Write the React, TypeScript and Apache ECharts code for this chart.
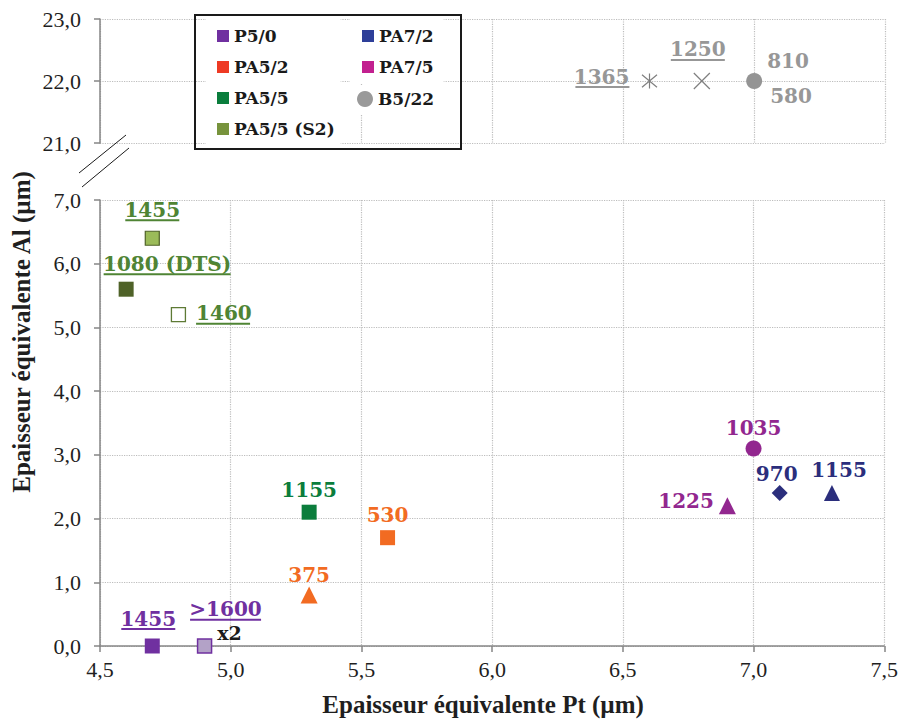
import React, { useEffect, useRef } from 'react';
import * as echarts from 'echarts';

// ---------- data ----------
const xMin = 4.5;
const xMax = 7.5;
const xStep = 0.5;
const yTopMin = 21;
const yTopMax = 23;
const yBotMin = 0;
const yBotMax = 7;

const seriesNames = ['P5/0', 'PA5/2', 'PA5/5', 'PA5/5 (S2)', 'PA7/2', 'PA7/5', 'B5/22'];

const p50X = [4.7, 4.9];
const p50Y = [0.0, 0.0];
const p50Labels = ['1455', '>1600'];

const pa52X = [5.6, 5.3];
const pa52Y = [1.7, 0.8];
const pa52Labels = ['530', '375'];

const pa55X = [5.3];
const pa55Y = [2.1];
const pa55Labels = ['1155'];

const s2X = [4.7, 4.6, 4.8];
const s2Y = [6.4, 5.6, 5.2];
const s2Labels = ['1455', '1080 (DTS)', '1460'];

const pa72X = [7.1, 7.3];
const pa72Y = [2.4, 2.4];
const pa72Labels = ['970', '1155'];

const pa75X = [7.0, 6.9];
const pa75Y = [3.1, 2.2];
const pa75Labels = ['1035', '1225'];

const b522X = [7.0, 6.8, 6.6];
const b522Y = [22.0, 22.0, 22.0];
const b522Labels = ['810', '1250', '1365'];
const b522LabelsLow = ['580', '', ''];

const p50Note = 'x2';

// ---------- styles ----------
const LABEL_FONT = '"DejaVu Serif", serif';
const AXIS_FONT = '"Liberation Serif", "Times New Roman", serif';
const LABEL_SIZE = 20;
const GRID_COLOR = '#BDBDBD';
const AXIS_COLOR = '#868686';

const SQUARE = 'rect';
const X_PATH = 'path://M0,0L10,10M10,0L0,10';
const STAR_PATH = 'path://M0,0L10,10M10,0L0,10M5,-1L5,11';

function measure(text: string, size: number): number {
  const ctx = document.createElement('canvas').getContext('2d');
  if (!ctx) return text.length * size * 0.6;
  ctx.font = `bold ${size}px ${LABEL_FONT}`;
  return Math.ceil(ctx.measureText(text).width);
}

type LabelOpts = {
  underline?: boolean;
  position: string;
  distance: number;
  offset?: number[];
  low?: string;
  note?: string;
};

function makeLabel(text: string, color: string, o: LabelOpts) {
  const rich: any = {
    t: { fontSize: LABEL_SIZE, fontWeight: 'bold', fontFamily: LABEL_FONT, color, lineHeight: o.underline ? 18 : 21 },
  };
  let fmt = `{t|${text}}`;
  if (o.underline) {
    rich.u = { width: measure(text, LABEL_SIZE) - 2, height: 2, lineHeight: 3, backgroundColor: color, fontSize: 2 };
    fmt += '\n{u| }';
  }
  if (o.low) {
    rich.t.lineHeight = 35;
    rich.l = { fontSize: LABEL_SIZE, fontWeight: 'bold', fontFamily: LABEL_FONT, color, lineHeight: 35, padding: [0, 0, 0, 3] };
    fmt += `\n{l|${o.low}}`;
  }
  if (o.note) {
    rich.n = { fontSize: 19, fontWeight: 'bold', fontFamily: LABEL_FONT, color: '#1A1A1A', lineHeight: 23, padding: [0, 0, 0, 8] };
    fmt += `\n{n|${o.note}}`;
  }
  return {
    show: true,
    position: o.position,
    distance: o.distance,
    offset: o.offset || [0, 0],
    formatter: fmt,
    rich,
  };
}

function pts(xs: number[], ys: number[]) {
  return xs.map((x, i) => [x, ys[i]]);
}

export default function App() {
  const ref = useRef<HTMLDivElement>(null);

  useEffect(() => {
    document.body.style.margin = '0';
    if (!ref.current) return;
    const chart = echarts.init(ref.current, null, { renderer: 'svg' });

    const purple = '#7030A0';
    const orange = '#F26B22';
    const green = '#0B7D3C';
    const olive = '#4F8434';
    const magenta = '#92278F';
    const navy = '#2B2E7C';
    const gray = '#979797';

    const p50 = pts(p50X, p50Y);
    const p50Data = [
      {
        value: p50[0], symbol: SQUARE, symbolSize: 15,
        itemStyle: { color: purple },
        label: makeLabel(p50Labels[0], purple, { underline: true, position: 'top', distance: 8, offset: [-4, 0] }),
      },
      {
        value: p50[1], symbol: SQUARE, symbolSize: 14,
        itemStyle: { color: '#B3A2C7', borderColor: purple, borderWidth: 1.5 },
        label: makeLabel(p50Labels[1], purple, { underline: true, position: 'top', distance: -6, offset: [21, 0], note: p50Note }),
      },
    ];

    const pa52 = pts(pa52X, pa52Y);
    const pa52Data = [
      { value: pa52[0], symbol: SQUARE, symbolSize: 15, itemStyle: { color: orange },
        label: makeLabel(pa52Labels[0], orange, { position: 'top', distance: 5 }) },
      { value: pa52[1], symbol: 'triangle', symbolSize: 17, itemStyle: { color: orange },
        label: makeLabel(pa52Labels[1], orange, { position: 'top', distance: 1 }) },
    ];

    const pa55 = pts(pa55X, pa55Y);
    const pa55Data = [
      { value: pa55[0], symbol: SQUARE, symbolSize: 15, itemStyle: { color: green },
        label: makeLabel(pa55Labels[0], green, { position: 'top', distance: 4 }) },
    ];

    const s2 = pts(s2X, s2Y);
    const s2Data = [
      { value: s2[0], symbol: SQUARE, symbolSize: 14,
        itemStyle: { color: '#9BBB59', borderColor: '#4F6228', borderWidth: 1.2 },
        label: makeLabel(s2Labels[0], olive, { underline: true, position: 'top', distance: 9 }) },
      { value: s2[1], symbol: SQUARE, symbolSize: 15,
        itemStyle: { color: '#4F6228' },
        label: makeLabel(s2Labels[1], olive, { underline: true, position: 'top', distance: 6, offset: [41, 0] }) },
      { value: s2[2], symbol: SQUARE, symbolSize: 14,
        itemStyle: { color: '#FFFFFF', borderColor: '#5E7A35', borderWidth: 1.3 },
        label: makeLabel(s2Labels[2], olive, { underline: true, position: 'right', distance: 10 }) },
    ];

    const pa72 = pts(pa72X, pa72Y);
    const pa72Data = [
      { value: pa72[0], symbol: 'diamond', symbolSize: 16, itemStyle: { color: navy },
        label: makeLabel(pa72Labels[0], navy, { position: 'top', distance: 1, offset: [-3, 0] }) },
      { value: pa72[1], symbol: 'triangle', symbolSize: 16, itemStyle: { color: navy },
        label: makeLabel(pa72Labels[1], navy, { position: 'top', distance: 5, offset: [7, 0] }) },
    ];

    const pa75 = pts(pa75X, pa75Y);
    const pa75Data = [
      { value: pa75[0], symbol: 'circle', symbolSize: 16, itemStyle: { color: magenta },
        label: makeLabel(pa75Labels[0], magenta, { position: 'top', distance: 2 }) },
      { value: pa75[1], symbol: 'triangle', symbolSize: 17, itemStyle: { color: magenta },
        label: makeLabel(pa75Labels[1], magenta, { position: 'left', distance: 5, offset: [0, -5] }) },
    ];

    const b522 = pts(b522X, b522Y);
    const b522Data = [
      { value: b522[0], symbol: 'circle', symbolSize: 16, itemStyle: { color: '#949494' },
        label: makeLabel(b522Labels[0], gray, { position: 'right', distance: 5, offset: [0, -3], low: b522LabelsLow[0] }) },
      { value: b522[1], symbol: X_PATH, symbolSize: 16,
        itemStyle: { color: '#7F7F7F', borderColor: '#7F7F7F', borderWidth: 1.2 },
        label: makeLabel(b522Labels[1], gray, { underline: true, position: 'top', distance: 11, offset: [-4, 0] }) },
      { value: b522[2], symbol: STAR_PATH, symbolSize: 15,
        itemStyle: { color: '#7F7F7F', borderColor: '#7F7F7F', borderWidth: 1.2 },
        label: makeLabel(b522Labels[2], gray, { underline: true, position: 'left', distance: 12, offset: [0, -3] }) },
    ];

    const tickFmt = (v: number) => v.toFixed(1).replace('.', ',');

    const splitLine = { show: true, lineStyle: { color: GRID_COLOR, type: 'dotted', width: 1.2 } };
    const axisLine = { show: true, onZero: false, lineStyle: { color: AXIS_COLOR, width: 1.5 } };
    const axisTick = { show: true, inside: false, length: 6, lineStyle: { color: AXIS_COLOR, width: 1.5 } };
    const axisLabel = { fontSize: 22, fontFamily: AXIS_FONT, color: '#1F1F1F', formatter: tickFmt };

    const legendText = { fontSize: 17, fontWeight: 'bold', fontFamily: LABEL_FONT, color: '#1A1A1A', lineHeight: 18 };
    const legendColors: Record<string, string> = {
      'P5/0': '#7030A0', 'PA5/2': '#EE3A24', 'PA5/5': '#0A7D3C', 'PA5/5 (S2)': '#77933C',
      'PA7/2': '#2E3F99', 'PA7/5': '#C2208F', 'B5/22': '#9A9A9A',
    };
    const legItem = (name: string, icon: string) => ({
      name, icon, itemStyle: { color: legendColors[name], borderWidth: 0, opacity: 1 },
    });

    const base = { type: 'scatter', xAxisIndex: 1, yAxisIndex: 1 };
    const series: any[] = [
      { ...base, name: seriesNames[0], itemStyle: { color: purple, opacity: 1 }, data: p50Data },
      { ...base, name: seriesNames[1], itemStyle: { color: orange, opacity: 1 }, data: pa52Data },
      { ...base, name: seriesNames[2], itemStyle: { color: green, opacity: 1 }, data: pa55Data },
      { ...base, name: seriesNames[3], itemStyle: { color: '#77933C', opacity: 1 }, data: s2Data },
      { ...base, name: seriesNames[4], itemStyle: { color: navy, opacity: 1 }, data: pa72Data },
      { ...base, name: seriesNames[5], itemStyle: { color: magenta, opacity: 1 }, data: pa75Data },
      { ...base, name: seriesNames[6], xAxisIndex: 0, yAxisIndex: 0, itemStyle: { color: '#949494', opacity: 1 }, data: b522Data },
    ];

    chart.setOption({
      animation: false,
      backgroundColor: '#FFFFFF',
      grid: [
        { left: 100, top: 19, width: 785, height: 124 },
        { left: 100, top: 200, width: 785, height: 448 },
      ],
      xAxis: [
        {
          type: 'value', gridIndex: 0, min: xMin, max: xMax, interval: xStep,
          axisLine: { show: false }, axisTick: { show: false }, axisLabel: { show: false }, splitLine,
        },
        {
          type: 'value', gridIndex: 1, min: xMin, max: xMax, interval: xStep,
          axisLine, axisTick, axisLabel: { ...axisLabel, margin: 12 }, splitLine,
          name: 'Epaisseur équivalente Pt (µm)', nameLocation: 'middle', nameGap: 46,
          nameTextStyle: { fontSize: 25, fontWeight: 'bold', fontFamily: AXIS_FONT, color: '#1F1F1F', padding: [0, 18, 0, 0] },
        },
      ],
      yAxis: [
        {
          type: 'value', gridIndex: 0, min: yTopMin, max: yTopMax, interval: 1,
          axisLine, axisTick, axisLabel: { ...axisLabel, margin: 19 }, splitLine,
        },
        {
          type: 'value', gridIndex: 1, min: yBotMin, max: yBotMax, interval: 1,
          axisLine, axisTick, axisLabel: { ...axisLabel, margin: 19 }, splitLine,
        },
      ],
      legend: [
        {
          left: 206, top: 17, orient: 'vertical', selectedMode: false,
          padding: [10, 6, 10, 11], itemWidth: 12, itemHeight: 12, itemGap: 13,
          backgroundColor: '#FFFFFF', textStyle: legendText,
          data: [legItem('P5/0', 'rect'), legItem('PA5/2', 'rect'), legItem('PA5/5', 'rect'), legItem('PA5/5 (S2)', 'rect')],
        },
        {
          left: 350, top: 17, orient: 'vertical', selectedMode: false,
          padding: [10, 10, 8, 12], itemWidth: 12, itemHeight: 12, itemGap: 13,
          backgroundColor: '#FFFFFF', textStyle: legendText,
          data: [legItem('PA7/2', 'rect'), legItem('PA7/5', 'rect')],
        },
        {
          left: 350, top: 86, orient: 'vertical', selectedMode: false,
          padding: [4, 10, 6, 7], itemWidth: 16, itemHeight: 16, itemGap: 13,
          backgroundColor: '#FFFFFF', textStyle: legendText,
          data: [legItem('B5/22', 'circle')],
        },
      ],
      graphic: [
        {
          type: 'rect', z: 100, shape: { x: 195, y: 15, width: 266, height: 134 },
          style: { fill: 'none', stroke: '#1A1A1A', lineWidth: 2 },
        },
        {
          type: 'line', z: 100, shape: { x1: 79, y1: 173, x2: 126, y2: 135 },
          style: { stroke: '#1A1A1A', lineWidth: 1 },
        },
        {
          type: 'line', z: 100, shape: { x1: 82, y1: 187, x2: 129, y2: 148 },
          style: { stroke: '#1A1A1A', lineWidth: 1 },
        },
        {
          type: 'text', z: 100, x: 21, y: 332, rotation: Math.PI / 2,
          style: {
            text: 'Epaisseur équivalente Al (µm)',
            fontSize: 25, fontWeight: 'bold', fontFamily: AXIS_FONT, fill: '#1F1F1F',
            align: 'center', verticalAlign: 'middle', textAlign: 'center', textVerticalAlign: 'middle',
          },
        },
      ],
      series,
    });

    return () => chart.dispose();
  }, []);

  return <div ref={ref} style={{ width: 901, height: 722 }} />;
}
